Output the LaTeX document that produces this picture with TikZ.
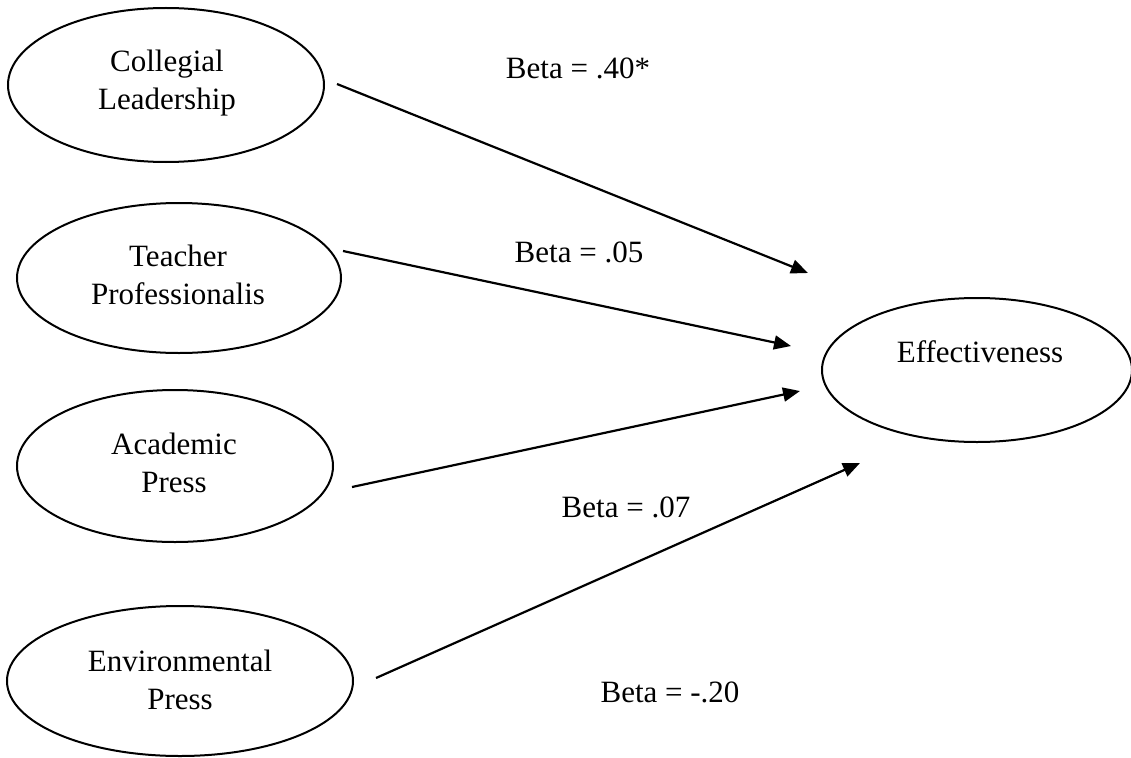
\documentclass[tikz,border=0pt]{standalone}
\usepackage{fontspec}
\setmainfont{Liberation Serif}
\usetikzlibrary{shapes.geometric,arrows.meta,calc}
\tikzset{
  oval/.style={ellipse, draw=black, line width=2pt, inner sep=0pt, outer sep=0pt},
  txt/.style={align=center, inner sep=0pt, font=\fontsize{31}{38}\selectfont},
  lbl/.style={inner sep=0pt, font=\fontsize{31}{38}\selectfont},
  arr/.style={line width=2.2pt, -{Triangle[length=17pt,width=14pt]}}
}
\begin{document}
\begin{tikzpicture}[x=1pt,y=-1pt]
\useasboundingbox (0,0) rectangle (1131,757);
% ellipses
\node[oval, minimum width=316pt, minimum height=154pt] (cl) at (166,85) {};
\node[oval, minimum width=324pt, minimum height=150pt] (tp) at (179,278) {};
\node[oval, minimum width=316pt, minimum height=152pt] (ap) at (175,466) {};
\node[oval, minimum width=346pt, minimum height=150pt] (ep) at (180,681) {};
\node[oval, minimum width=310pt, minimum height=144pt] (eff) at (977,370) {};
% texts inside
\node[txt] (cltxt) at (167,83) {Collegial\\Leadership};
\node[txt] (tptxt) at (178,275) {Teacher\\Professionalis};
\node[txt] (aptxt) at (174,463) {Academic\\Press};
\node[txt] (eptxt) at (180,680) {Environmental\\Press};
\node[lbl] (efftxt) at (980,352) {Effectiveness};
% beta labels
\node[lbl] (b1) at (578,68) {Beta = .40*};
\node[lbl] (b2) at (579,252) {Beta = .05};
\node[lbl] (b3) at (626,507) {Beta = .07};
\node[lbl] (b4) at (670,692) {Beta = -.20};
% arrow ends
\coordinate (s1) at ($(cl.center)+(171,-1)$);
\coordinate (s2) at ($(tp.center)+(164,-27)$);
\coordinate (s3) at ($(ap.center)+(177,21)$);
\coordinate (s4) at ($(ep.center)+(196,-3)$);
\coordinate (e1) at ($(eff.center)+(-169,-97)$);
\coordinate (e2) at ($(eff.center)+(-186,-24)$);
\coordinate (e3) at ($(eff.center)+(-177,21)$);
\coordinate (e4) at ($(eff.center)+(-117,93)$);
\draw[arr] (s1) -- (e1);
\draw[arr] (s2) -- (e2);
\draw[arr] (s3) -- (e3);
\draw[arr] (s4) -- (e4);
\end{tikzpicture}
\end{document}
